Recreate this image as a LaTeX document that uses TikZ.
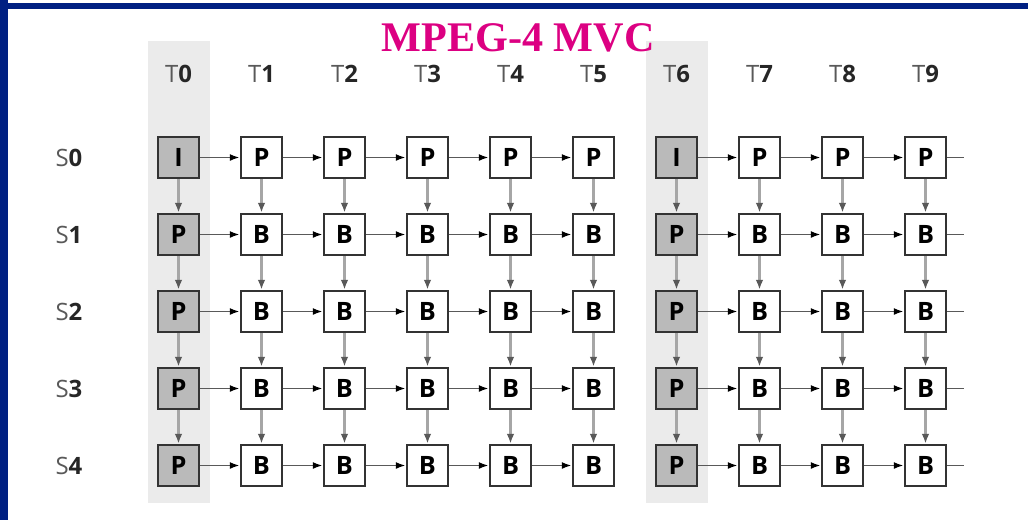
\documentclass[tikz,border=0pt]{standalone}
\usepackage{fontspec}
\setmainfont{Liberation Serif}
\setsansfont{Open Sans}
\usetikzlibrary{arrows.meta}
\definecolor{framecolor}{RGB}{0,32,130}
\definecolor{titlecolor}{RGB}{220,0,130}
\colorlet{anchorcolor}{black!27}
\colorlet{bandcolor}{black!8}

\begin{document}
\begin{tikzpicture}[x=0.025cm, y=-0.025cm, font=\sffamily,
    axislabel/.style={font=\sffamily\fontsize{17}{17}\selectfont, text=black!65},
    frame/.style={draw=black!80, line width=1.8pt, fill=white, minimum size=1.03cm,
        inner sep=0pt, font=\sffamily\bfseries\fontsize{18}{18}\selectfont},
    anchorframe/.style={frame, fill=anchorcolor},
    harrow/.style={draw=black!65, line width=1.3pt, -{Latex[length=7pt, width=5pt, color=black]}},
    varrow/.style={draw=black!35, line width=2.1pt, -{Latex[length=7pt, width=5.5pt, color=black!65]}}]

    \useasboundingbox (0,0) rectangle (1028,520);

    % ===== Slide frame =====
    \fill[framecolor] (0,0) rectangle (8,520);
    \fill[framecolor] (0,3) rectangle (1028,9);

    % ===== Shaded anchor columns =====
    \foreach \t in {0,6}
        \fill[bandcolor] ({147.5+83*\t},41) rectangle ({209.5+83*\t},503);

    % ===== Title =====
    \node[font=\rmfamily\bfseries\fontsize{30}{30}\selectfont, text=titlecolor] (title) at (518,38) {MPEG-4 MVC};

    % ===== Time and view labels =====
    \foreach \t in {0,...,9}
        \node[axislabel] (t\t) at ({178.5+83*\t},74) {T\textcolor{black!85}{\bfseries\t}};
    \foreach \s in {0,...,4}
        \node[axislabel] (s\s) at (69,{157.5+77*\s}) {S\textcolor{black!85}{\bfseries\s}};

    % ===== Frames =====
    % anchor columns: I in S0, P below
    \foreach \t in {0,6} {
        \node[anchorframe] (f\t\space0) at ({178.5+83*\t},157.5) {I};
        \foreach \s in {1,...,4}
            \node[anchorframe] (f\t\space\s) at ({178.5+83*\t},{157.5+77*\s}) {P};
    }
    % other columns: P in S0, B below
    \foreach \t in {1,2,3,4,5,7,8,9} {
        \node[frame] (f\t\space0) at ({178.5+83*\t},157.5) {P};
        \foreach \s in {1,...,4}
            \node[frame] (f\t\space\s) at ({178.5+83*\t},{157.5+77*\s}) {B};
    }

    % ===== Temporal prediction =====
    \foreach \s in {0,...,4} {
        \foreach \t/\n in {0/1,1/2,2/3,3/4,4/5,6/7,7/8,8/9}
            \draw[harrow] (f\t\space\s.east) -- (f\n\space\s.west);
        \coordinate (end\s) at ([xshift=0.42cm]f9\space\s.east);
        \draw[draw=black!65, line width=1.3pt] (f9\space\s.east) -- (end\s);
    }

    % ===== Inter-view prediction =====
    \foreach \t in {0,...,9} {
        \foreach \s/\n in {0/1,1/2,2/3,3/4}
            \draw[varrow] (f\t\space\s.south) -- (f\t\space\n.north);
    }

\end{tikzpicture}
\end{document}
